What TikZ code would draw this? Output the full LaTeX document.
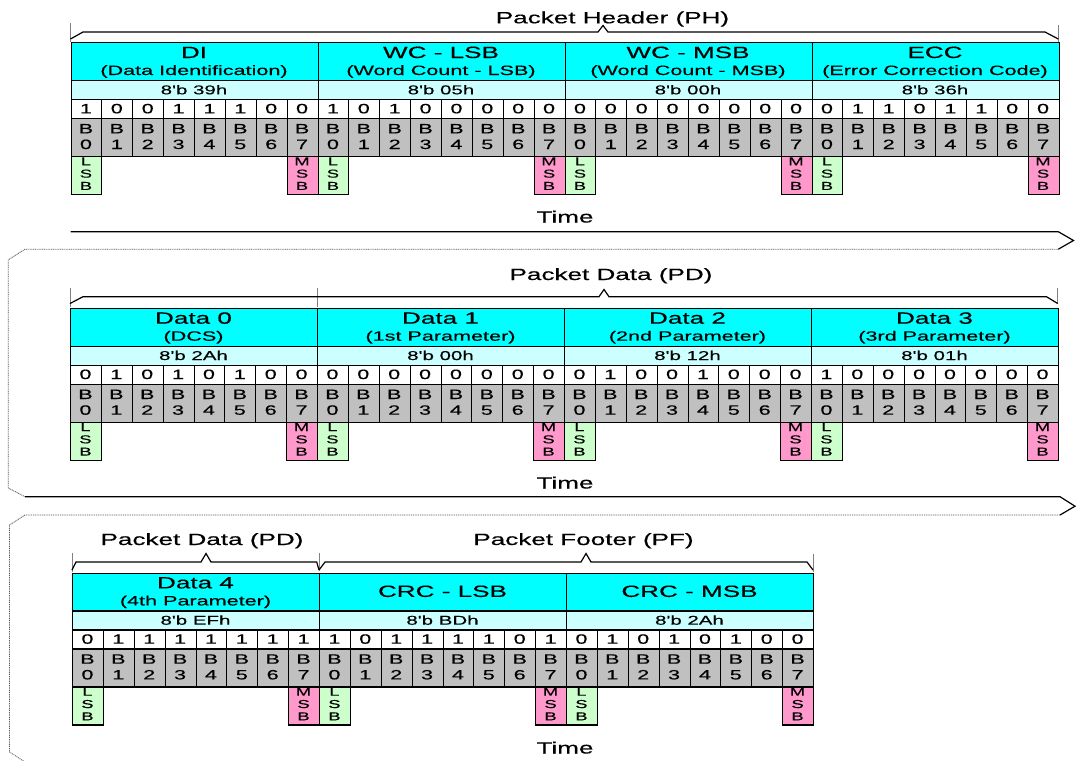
\documentclass[tikz,border=0pt]{standalone}
\usepackage{fontspec}
\newfontfamily\ar{Liberation Sans}[FakeStretch=1.6, FakeBold=0.35]
\definecolor{cyanA}{HTML}{00FFFF}
\definecolor{cyanB}{HTML}{CCFFFF}
\definecolor{grayC}{HTML}{C0C0C0}
\definecolor{lsbC}{HTML}{CCFFCC}
\definecolor{msbC}{HTML}{FF99CC}
\tikzset{
  cellbox/.style={draw=black, line width=1.1pt, inner sep=0pt, anchor=north west},
  txt/.style={inner sep=0pt, anchor=base, text=black},
  bigtxt/.style={txt, font=\ar\fontsize{16.3}{18}\selectfont},
  subtxt/.style={txt, font=\ar\fontsize{13.5}{15}\selectfont},
  hextxt/.style={txt, font=\ar\fontsize{12.8}{14}\selectfont},
  bittxt/.style={txt, font=\ar\fontsize{13.5}{15}\selectfont},
  tagtxt/.style={txt, font=\ar\fontsize{11.5}{13}\selectfont},
  timeline/.style={draw=black, line width=1.2pt, line join=miter},
  ribbon/.style={draw=black!65, line width=0.8pt, dash pattern=on 1pt off 0.8pt},
  bracel/.style={draw=black, line width=1.2pt},
  tick/.style={draw=gray, line width=0.8pt},
}
% #1 name, #2 x, #3 top y, #4 title, #5 subtitle, #6 hex, #7 bits
\newcommand\bytesec[7]{%
\begin{scope}[shift={(#2,#3)}]
  \node[cellbox, fill=cyanA, minimum width=247pt, minimum height=37.7pt] (#1c) at (0,0) {};
  \if\relax\detokenize{#5}\relax
    \node[bigtxt] (#1t) at (123.5,24.2) {#4};
  \else
    \node[bigtxt] (#1t) at (123.5,15.7) {#4};
    \node[subtxt] (#1s) at (123.5,32.7) {#5};
  \fi
  \node[cellbox, fill=cyanB, minimum width=247pt, minimum height=19pt] (#1h) at (0,37.7) {};
  \node[hextxt] (#1x) at (123.5,52) {8'b #6};
  \foreach \b [count=\i from 0] in {#7} {
    \node[cellbox, fill=white, minimum width=30.875pt, minimum height=19pt] (#1v\i) at ({\i*30.875},56.7) {};
    \node[bittxt] (#1vt\i) at ({\i*30.875+15.44},71) {\b};
    \node[cellbox, fill=grayC, minimum width=30.875pt, minimum height=38pt] (#1g\i) at ({\i*30.875},75.7) {};
    \node[bittxt] (#1gb\i) at ({\i*30.875+15.44},91) {B};
    \node[bittxt] (#1gd\i) at ({\i*30.875+15.44},106.7) {\i};
  }
  \node[cellbox, fill=lsbC, minimum width=30.875pt, minimum height=38pt] (#1l) at (0,113.7) {};
  \node[cellbox, fill=msbC, minimum width=30.875pt, minimum height=38pt] (#1m) at (216.125,113.7) {};
  \foreach \ch [count=\k from 0] in {L,S,B} {
    \node[tagtxt] (#1lt\k) at (15.44,{123+\k*12.3}) {\ch};
  }
  \foreach \ch [count=\k from 0] in {M,S,B} {
    \node[tagtxt] (#1mt\k) at (231.56,{123+\k*12.3}) {\ch};
  }
\end{scope}}
\begin{document}
\begin{tikzpicture}[x=1pt, y=-1pt]
\clip (0,0) rectangle (1080,761);
\fill[white] (0,0) rectangle (1080,761);

% ---------- ribbon (time arrows) ----------
\draw[timeline] (70.5,231.7) -- (1058.3,231.7) -- (1073.5,240.5) -- (1058.3,249.2);
\draw[ribbon] (1058.3,249.2) -- (25,249.2) -- (8.3,259.8) -- (8.3,488) -- (25,496.7);
\draw[timeline] (25,496.7) -- (1060,496.7) -- (1075,506.2) -- (1060,515);
\draw[ribbon] (1060,515) -- (25,515) -- (9.5,525) -- (9.5,752) -- (25,762);
\draw[timeline] (25,762) -- (1060,762) -- (1075,771);

% ---------- row 1 ----------
\draw[tick] (70.5,23) -- (70.5,42);
\draw[tick] (1058.3,25) -- (1058.3,42);
\draw[bracel] (70.5,39) -- (83,32) -- (598,32) -- (603,25.5) -- (608,32) -- (1045,32) -- (1058.3,39);
\node[bigtxt] (ph) at (612.5,23.3) {Packet Header (PH)};
\bytesec{a1}{70.5}{42.3}{DI}{(Data Identification)}{39h}{1,0,0,1,1,1,0,0}
\bytesec{a2}{317.5}{42.3}{WC - LSB}{(Word Count - LSB)}{05h}{1,0,1,0,0,0,0,0}
\bytesec{a3}{564.5}{42.3}{WC - MSB}{(Word Count - MSB)}{00h}{0,0,0,0,0,0,0,0}
\bytesec{a4}{811.5}{42.3}{ECC}{(Error Correction Code)}{36h}{0,1,1,0,1,1,0,0}
\node[bigtxt] (time1) at (565,222.5) {Time};

% ---------- row 2 ----------
\draw[tick] (70,288) -- (70,307);
\draw[tick] (317,288) -- (317,307);
\draw[tick] (1057.7,288) -- (1057.7,304);
\draw[bracel] (70,303.5) -- (83,296.7) -- (599,296.7) -- (604,289.5) -- (609,296.7) -- (1046.5,296.7) -- (1057.7,303.5);
\node[bigtxt] (pd1) at (611,280) {Packet Data (PD)};
\bytesec{b1}{70}{308}{Data 0}{(DCS)}{2Ah}{0,1,0,1,0,1,0,0}
\bytesec{b2}{317}{308}{Data 1}{(1st Parameter)}{00h}{0,0,0,0,0,0,0,0}
\bytesec{b3}{564}{308}{Data 2}{(2nd Parameter)}{12h}{0,1,0,0,1,0,0,0}
\bytesec{b4}{811}{308}{Data 3}{(3rd Parameter)}{01h}{1,0,0,0,0,0,0,0}
\node[bigtxt] (time2) at (565,488.5) {Time};

% ---------- row 3 ----------
\draw[tick] (72,553) -- (72,572);
\draw[tick] (319,553) -- (319,571);
\draw[tick] (813,554) -- (813,572);
\draw[bracel] (72,570) -- (76,562) -- (201,562) -- (206,553.5) -- (211,562) -- (316.7,562) -- (319,570);
\draw[bracel] (319,570) -- (325,562) -- (581,562) -- (586,553.5) -- (591,562) -- (807,562) -- (813,570);
\node[bigtxt] (pd2) at (202,545) {Packet Data (PD)};
\node[bigtxt] (pf) at (583.5,545) {Packet Footer (PF)};
\bytesec{c1}{72}{572.7}{Data 4}{(4th Parameter)}{EFh}{0,1,1,1,1,1,1,1}
\bytesec{c2}{319}{572.7}{CRC - LSB}{}{BDh}{1,0,1,1,1,1,0,1}
\bytesec{c3}{566}{572.7}{CRC - MSB}{}{2Ah}{0,1,0,1,0,1,0,0}
\node[bigtxt] (time3) at (565,753.5) {Time};
\end{tikzpicture}
\end{document}
